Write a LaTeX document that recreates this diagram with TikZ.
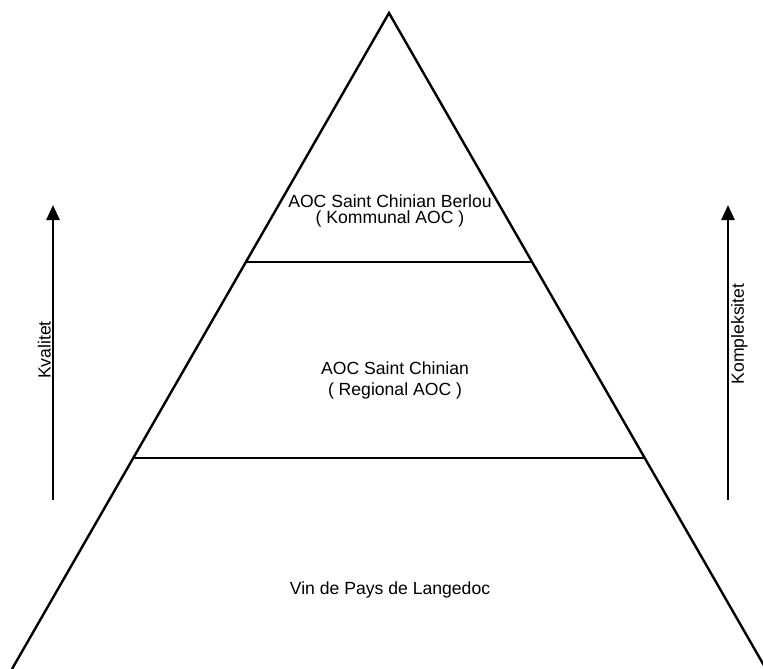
\documentclass[tikz,border=0pt]{standalone}
\usepackage{fontspec}
\setmainfont{Liberation Sans}
\usetikzlibrary{arrows.meta,calc}

\begin{document}
\begin{tikzpicture}[x=1pt,y=-1pt,
  edge/.style={line width=2.4pt, line join=miter},
  divider/.style={line width=2pt},
  tier/.style={font=\fontsize{17.6}{16}\selectfont, align=center, inner sep=0pt},
  axis/.style={line width=2.6pt, -{Triangle[length=15pt,width=13pt]}},
  axislabel/.style={font=\fontsize{17.6}{20}\selectfont, rotate=90, inner sep=0pt}]
\useasboundingbox (0,0) rectangle (763,669);
\clip (0,0) rectangle (763,669);
% Pyramid outline
\coordinate (apex) at (389,13);
\coordinate (baseL) at (12,669);
\coordinate (baseR) at (766,669);
\draw[edge] (baseL) -- (apex) -- (baseR);
% Level dividers
\draw[divider] ($(apex)!0.3796!(baseL)$) -- ($(apex)!0.3796!(baseR)$);
\draw[divider] ($(apex)!0.6784!(baseL)$) -- ($(apex)!0.6784!(baseR)$);
% Tier labels
\node[tier, anchor=north] (kommunal) at (390,195) {AOC Saint Chinian Berlou\\( Kommunal AOC )};
\node[tier, anchor=north, font=\fontsize{17.6}{21}\selectfont] (regional) at (395,362) {AOC Saint Chinian\\( Regional AOC )};
\node[tier, anchor=base] (vdp) at (390,594) {Vin de Pays de Langedoc};
% Side axes
\coordinate (kvalLow) at (53,500);
\coordinate (kvalHigh) at (53,205);
\coordinate (kompLow) at (728,500);
\coordinate (kompHigh) at (728,205);
\draw[axis] (kvalLow) -- (kvalHigh);
\draw[axis] (kompLow) -- (kompHigh);
\node[axislabel, anchor=south] (kvalitet) at (51,350) {Kvalitet};
\node[axislabel, anchor=north] (kompleksitet) at (731,334) {Kompleksitet};
\end{tikzpicture}
\end{document}
